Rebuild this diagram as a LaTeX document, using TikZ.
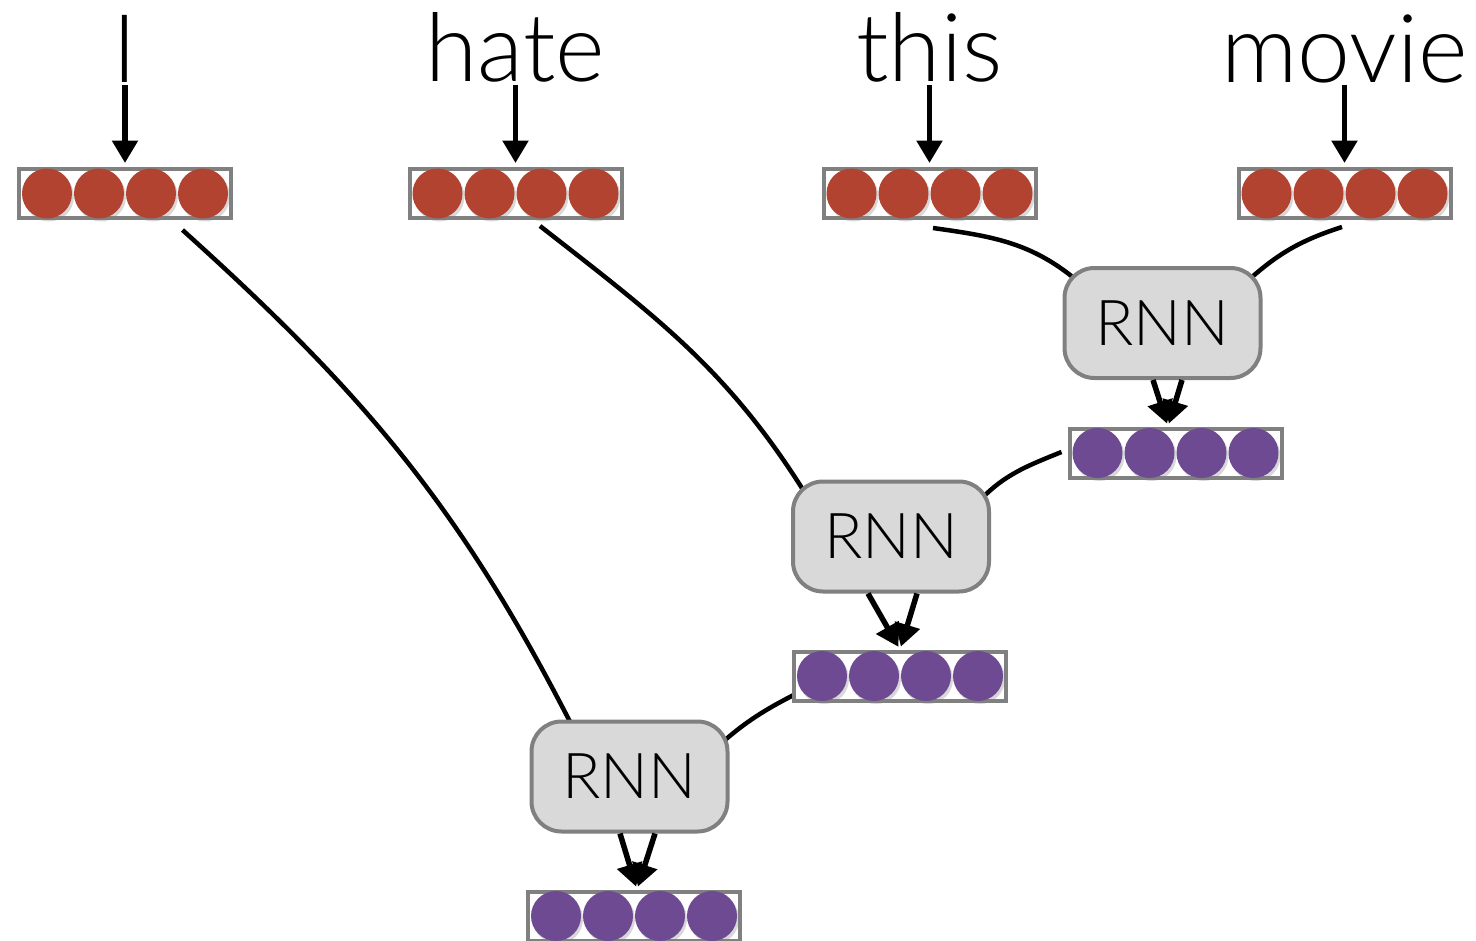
\documentclass[tikz,border=0pt]{standalone}
\usepackage{fontspec}
\setmainfont{Lato Light}
\usepackage{xcolor}
\usetikzlibrary{arrows.meta,positioning,backgrounds,shadows}
\definecolor{cellred}{RGB}{178,67,48}
\definecolor{cellpurple}{RGB}{110,74,146}
\definecolor{framegray}{RGB}{128,128,128}
\definecolor{rnnfill}{RGB}{217,217,217}
\tikzset{
  wordvec/.style={rectangle, draw=framegray, fill=white, line width=0.08cm, minimum width=4.24cm, minimum height=0.98cm, inner sep=0pt},
  rnnbox/.style={rectangle, rounded corners=0.6cm, draw=framegray, fill=rnnfill, line width=0.08cm, minimum width=3.92cm, minimum height=2.2cm, font=\fontsize{36}{42}\selectfont},
  word/.style={inner sep=0pt, font=\fontsize{54}{62}\selectfont},
  cell/.style={drop shadow={opacity=0.3, shadow xshift=0.04cm, shadow yshift=-0.06cm}},
  inarrow/.style={-{Triangle[length=0.45cm, width=0.5cm]}, line width=0.11cm},
  link/.style={line width=0.09cm}
}

\begin{document}
\begin{tikzpicture}
\useasboundingbox (0,0) rectangle (29.52,-18.82);
% word embeddings
\node[wordvec] (v1) at (2.5,-3.87) {};
\node[wordvec] (v2) at (10.31,-3.87) {};
\node[wordvec] (v3) at (18.59,-3.87) {};
\node[wordvec] (v4) at (26.89,-3.87) {};
\node[word, above=1.68cm of v1] (w1) {I};
\node[word, above=1.68cm of v2] (w2) {hate};
\node[word, above=1.68cm of v3] (w3) {this};
\node[word, above=1.68cm of v4] (w4) {movie};
% composition units and their outputs
\node[rnnbox] (r1) at (23.25,-6.46) {RNN};
\node[rnnbox] (r2) at (17.82,-10.73) {RNN};
\node[rnnbox] (r3) at (12.59,-15.53) {RNN};
\node[wordvec] (o1) at (23.51,-9.06) {};
\node[wordvec] (o2) at (18.0,-13.52) {};
\node[wordvec] (o3) at (12.68,-18.32) {};
\foreach \v in {v1,v2,v3,v4}
  \foreach \c in {-1.5,-0.5,0.5,1.5}
    \fill[cell, cellred] ([xshift=\c*1.04cm]\v.center) circle (0.5cm);
\foreach \v in {o1,o2,o3}
  \foreach \c in {-1.5,-0.5,0.5,1.5}
    \fill[cell, cellpurple] ([xshift=\c*1.04cm]\v.center) circle (0.5cm);
\foreach \i in {1,2,3,4}
  \draw[inarrow, shorten <=0.04cm, shorten >=0.08cm] (w\i.south) -- (v\i.north);
% tree edges
\begin{scope}[on background layer]
\draw[link] ([shift={(0.07cm,-0.16cm)}]v3.south) to[out=-8, in=140] ([shift={(0.3cm,-0.3cm)}]r1.north west);
\draw[link] ([shift={(-0.05cm,-0.14cm)}]v4.south) to[out=-162, in=42] ([shift={(-0.3cm,-0.3cm)}]r1.north east);
\draw[link] ([shift={(0.49cm,-0.12cm)}]v2.south) to[out=-38, in=122] ([shift={(0.3cm,-0.3cm)}]r2.north west);
\draw[link] ([shift={(-0.12cm,0.02cm)}]o1.west) to[out=-158, in=48] ([shift={(-0.3cm,-0.5cm)}]r2.north east);
\draw[link] ([shift={(1.15cm,-0.2cm)}]v1.south) to[out=-42, in=117] ([shift={(-1.09cm,-0.24cm)}]r3.north);
\draw[link] ([shift={(0.15cm,-0.32cm)}]o2.west) to[out=-153, in=42] ([shift={(-0.26cm,-0.56cm)}]r3.north east);
\end{scope}
\draw[inarrow, shorten >=0.06cm] ([xshift=-0.19cm]r1.south) -- ([xshift=-0.15cm]o1.north);
\draw[inarrow, shorten >=0.06cm] ([xshift=0.39cm]r1.south) -- ([xshift=-0.15cm]o1.north);
\draw[inarrow, shorten >=0.06cm] ([xshift=-0.46cm]r2.south) -- (o2.north);
\draw[inarrow, shorten >=0.06cm] ([xshift=0.52cm]r2.south) -- (o2.north);
\draw[inarrow, shorten >=0.06cm] ([xshift=-0.19cm]r3.south) -- ([xshift=0.06cm]o3.north);
\draw[inarrow, shorten >=0.06cm] ([xshift=0.51cm]r3.south) -- ([xshift=0.06cm]o3.north);
\end{tikzpicture}
\end{document}
